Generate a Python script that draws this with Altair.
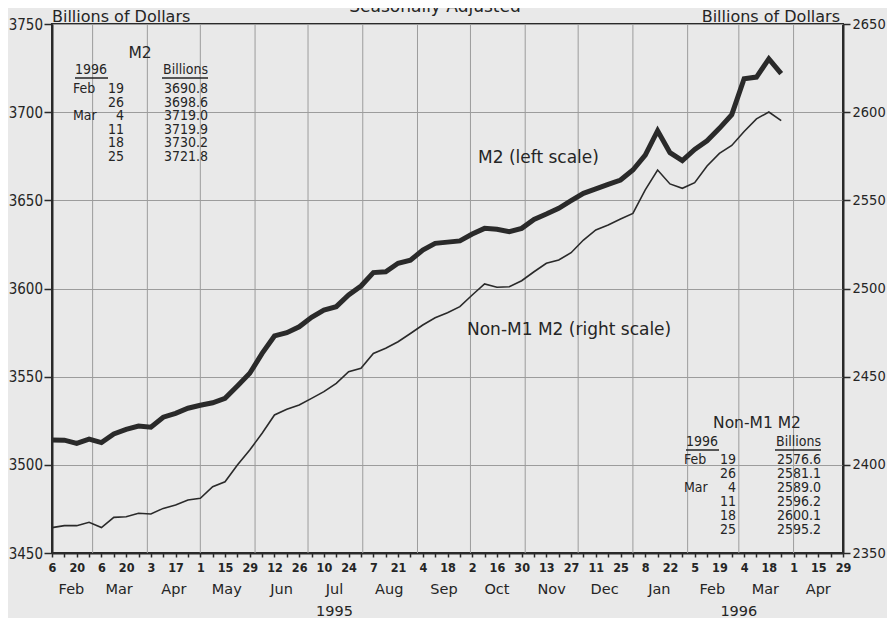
import altair as alt
import pandas as pd

# ---------------- data ----------------
start_date = "1995-02-06"
end_date = "1996-04-29"
n_weeks = 60

m2_values = [
    3514.1, 3514.0, 3512.2, 3514.6, 3512.6, 3517.5, 3520.1, 3522.0, 3521.3, 3527.0,
    3529.2, 3532.1, 3533.8, 3535.2, 3537.7, 3544.7, 3551.9, 3563.2, 3573.1, 3574.9,
    3578.3, 3583.7, 3587.8, 3589.7, 3596.3, 3601.4, 3609.0, 3609.5, 3614.3, 3616.0,
    3621.8, 3625.6, 3626.3, 3627.0, 3630.9, 3634.1, 3633.6, 3632.2, 3634.1, 3639.2,
    3642.2, 3645.5, 3649.8, 3654.0, 3656.5, 3659.1, 3661.5, 3667.2, 3675.7, 3689.5,
    3677.0, 3672.5, 3678.9, 3683.8, 3690.8, 3698.6, 3719.0, 3719.9, 3730.2, 3721.8,
]
nonm1_values = [
    2364.4, 2365.5, 2365.5, 2367.4, 2364.4, 2370.2, 2370.6, 2372.5, 2372.1, 2375.3,
    2377.2, 2380.1, 2381.0, 2387.6, 2390.4, 2399.9, 2408.4, 2417.9, 2428.3, 2431.5,
    2433.9, 2437.7, 2441.5, 2446.2, 2452.8, 2454.7, 2463.2, 2466.1, 2469.8, 2474.5,
    2479.3, 2483.4, 2486.3, 2489.7, 2496.3, 2502.6, 2500.7, 2501.0, 2504.4, 2509.5,
    2514.3, 2516.2, 2520.3, 2527.5, 2533.2, 2536.0, 2539.4, 2542.6, 2555.9, 2567.2,
    2559.3, 2556.8, 2560.0, 2569.5, 2576.6, 2581.1, 2589.0, 2596.2, 2600.1, 2595.2,
]

month_names = ["Feb", "Mar", "Apr", "May", "Jun", "Jul", "Aug", "Sep", "Oct",
               "Nov", "Dec", "Jan", "Feb", "Mar", "Apr"]
year_labels = ["1995", "1996"]
year_label_dates = ["1995-07-16", "1996-03-01"]

table_months = ["Feb", "", "Mar", "", "", ""]
table_days = ["19", "26", "4", "11", "18", "25"]

left_ticks = [3450, 3500, 3550, 3600, 3650, 3700, 3750]
right_ticks = [2350, 2400, 2450, 2500, 2550, 2600, 2650]

# ---------------- frames ----------------
dates = pd.date_range(start_date, periods=n_weeks, freq="7D")
series = pd.DataFrame({
    "date": dates.strftime("%Y-%m-%d"),
    "m2": m2_values,
    "nonm1": nonm1_values,
})

d0 = pd.Timestamp(start_date)
d1 = pd.Timestamp(end_date)
t0_ms = int(d0.value // 10**6)
week_ticks = [int(t.value // 10**6) for t in pd.date_range(d0, d1, freq="7D")]

month_starts = pd.date_range("1995-03-01", "1996-04-01", freq="MS")
grid_df = pd.DataFrame({"date": month_starts.strftime("%Y-%m-%d")})

all_month_starts = pd.date_range("1995-02-01", "1996-04-01", freq="MS")
mid = []
for ms in all_month_starts:
    a = max(ms, d0)
    b = min(ms + pd.offsets.MonthBegin(1), d1)
    mid.append((a + (b - a) / 2).strftime("%Y-%m-%d"))
month_df = pd.DataFrame({"date": mid, "label": month_names})
year_df = pd.DataFrame({"date": year_label_dates, "label": year_labels})

LINE = "#2a2a2a"
GRID = "#9c9c9c"
TXT = "#252525"
FONT = "DejaVu Sans"
COND = "DejaVu Sans Condensed"

x_enc = alt.X(
    "date:T",
    scale=alt.Scale(type="utc", domain=[start_date, end_date]),
    axis=alt.Axis(
        values=week_ticks, title=None, grid=False, orient="bottom",
        labelExpr=f"(round((datum.value - {t0_ms}) / 604800000) % 2 == 0) ? utcFormat(datum.value, '%-d') : ''",
        labelFont=COND, labelFontSize=12.5, labelFontWeight="bold", labelColor=TXT,
        labelFlush=False, labelOverlap=False, labelPadding=4,
        tickSize=4, tickColor=LINE, tickWidth=1.5,
        domainColor=LINE, domainWidth=2,
    ),
)

rules = alt.Chart(grid_df).mark_rule(color=GRID, strokeWidth=1).encode(x=x_enc)

m2_line = alt.Chart(series).mark_line(color=LINE, strokeWidth=5, strokeJoin="miter").encode(
    x=x_enc,
    y=alt.Y("m2:Q", scale=alt.Scale(domain=[3450, 3750], nice=False, zero=False),
            axis=alt.Axis(values=left_ticks, orient="left", title=None, grid=True, format="d",
                          gridColor=GRID, gridWidth=1,
                          labelFont=COND, labelFontSize=15, labelColor=TXT,
                          labelPadding=1.5, tickSize=8, tickColor=LINE, tickWidth=1.5,
                          domainColor=LINE, domainWidth=2)),
)

nonm1_line = alt.Chart(series).mark_line(color=LINE, strokeWidth=1.6).encode(
    x=x_enc,
    y=alt.Y("nonm1:Q", scale=alt.Scale(domain=[2350, 2650], nice=False, zero=False),
            axis=alt.Axis(values=right_ticks, orient="right", title=None, grid=False, format="d",
                          labelFont=COND, labelFontSize=14.5, labelColor=TXT,
                          labelPadding=2, tickSize=7, tickColor=LINE, tickWidth=1.5,
                          domainColor=LINE, domainWidth=2)),
)

month_text = alt.Chart(month_df).mark_text(
    font=FONT, fontSize=14.5, color=TXT, baseline="middle", align="center"
).encode(x=x_enc, y=alt.value(566), text="label:N")

year_text = alt.Chart(year_df).mark_text(
    font=FONT, fontSize=14.5, color=TXT, baseline="middle", align="center"
).encode(x=x_enc, y=alt.value(588), text="label:N")


def label(txt, x, y, size=16.5, align="left", font=FONT, baseline="middle"):
    return alt.Chart(pd.DataFrame({"t": [txt]})).mark_text(
        font=font, fontSize=size, color=TXT, align=align, baseline=baseline
    ).encode(x=alt.value(x), y=alt.value(y), text="t:N")


def underline(x1, x2, y):
    return alt.Chart(pd.DataFrame({"a": [0]})).mark_rule(color=TXT, strokeWidth=1.3).encode(
        x=alt.value(x1), x2=alt.value(x2), y=alt.value(y)
    )


def table(values, title, title_x, title_y, left_x, day_right, val_right, top, step, head_y):
    df = pd.DataFrame({
        "month": table_months,
        "day": table_days,
        "val": [f"{v:.1f}" for v in values],
        "py": [top + step * i for i in range(len(values))],
    })
    ypx = alt.Y("py:Q", scale=None, axis=None)
    base = alt.Chart(df)
    tkw = dict(font=COND, fontSize=14, color=TXT, baseline="middle")
    return [
        label(title, title_x, title_y, size=15.5, align="center"),
        label("1996", left_x + 2, head_y, size=14, font=COND),
        label("Billions", val_right, head_y, size=14, align="right", font=COND),
        underline(left_x + 2, left_x + 35, head_y + 8),
        underline(val_right - 46, val_right, head_y + 8),
        base.mark_text(align="left", **tkw).encode(x=alt.value(left_x), y=ypx, text="month:N"),
        base.mark_text(align="right", **tkw).encode(x=alt.value(day_right), y=ypx, text="day:N"),
        base.mark_text(align="right", **tkw).encode(x=alt.value(val_right), y=ypx, text="val:N"),
    ]


m2_table = table(m2_values[-6:], "M2", 88, 29, 21, 72, 156, 65, 13.6, 46)
nonm1_table = table(nonm1_values[-6:], "Non-M1 M2", 705, 399, 632, 684, 769, 436, 14, 418)

texts = [
    label("Billions of Dollars", 0, -7.5, size=16),
    label("Billions of Dollars", 788, -7.5, size=16, align="right"),
    label("Seasonally Adjusted", 383, -12.5, size=17, align="center", baseline="alphabetic"),
    label("M2 (left scale)", 426, 134, size=17),
    label("Non-M1 M2 (right scale)", 415, 306, size=17),
]

chart = alt.layer(
    rules, m2_line, nonm1_line, month_text, year_text, *m2_table, *nonm1_table, *texts
).resolve_scale(y="independent").properties(
    width=791, height=529,
    autosize=alt.AutoSizeParams(type="none"),
    padding={"left": 44, "top": 16, "right": 44, "bottom": 65},
).configure(background="#e9e9e9").configure_view(
    stroke=LINE, strokeWidth=2
).configure_axis(labelOverlap=False)

chart.save("out.html", embed_options={"renderer": "svg", "actions": False})
